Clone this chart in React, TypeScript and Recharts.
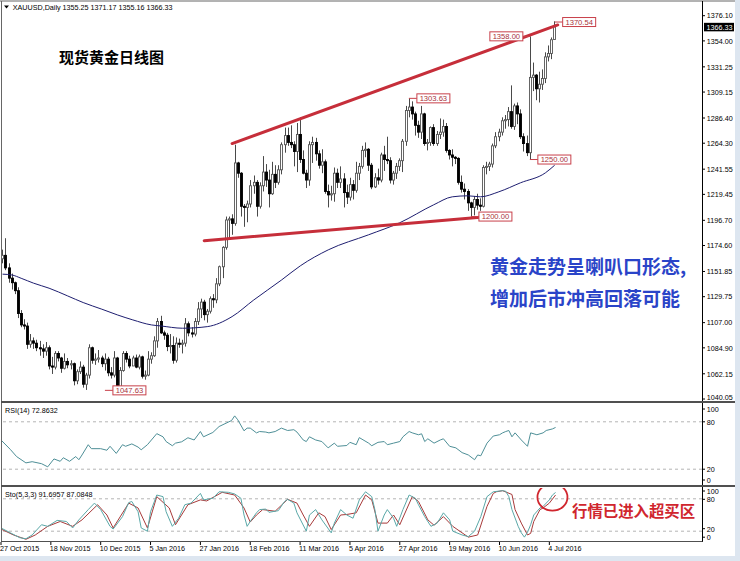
import React from 'react';
import { ComposedChart, Bar, Line, XAxis, YAxis, ReferenceLine, ReferenceDot } from 'recharts';

// XAUUSD daily bars, 27 Oct 2015 .. 6 Jul 2016 (179 bars)
const opens = [
  1163, 1166, 1155, 1146, 1142, 1135, 1115, 1105, 1104, 1088,
  1091, 1089, 1085, 1084, 1082, 1085, 1069, 1068, 1080, 1076,
  1067, 1073, 1070, 1071, 1056, 1064, 1068, 1053, 1061, 1085,
  1074, 1075, 1076, 1071, 1075, 1063, 1061, 1076, 1049, 1065,
  1080, 1075, 1069, 1076, 1068, 1077, 1060, 1061, 1075, 1078,
  1091, 1108, 1098, 1096, 1086, 1087, 1074, 1089, 1088, 1089,
  1106, 1098, 1097, 1108, 1119, 1125, 1114, 1117, 1128, 1127,
  1141, 1156, 1173, 1197, 1198, 1194, 1247, 1238, 1209, 1208,
  1211, 1227, 1230, 1209, 1227, 1239, 1232, 1220, 1237, 1230,
  1241, 1263, 1271, 1265, 1263, 1257, 1272, 1250, 1238, 1232,
  1263, 1265, 1255, 1245, 1248, 1222, 1219, 1220, 1238, 1230,
  1233, 1221, 1217, 1228, 1223, 1238, 1244, 1258, 1259, 1245,
  1226, 1234, 1232, 1254, 1250, 1249, 1232, 1238, 1244, 1249,
  1266, 1293, 1296, 1290, 1280, 1274, 1290, 1264, 1265, 1278,
  1264, 1272, 1274, 1279, 1258, 1254, 1252, 1251, 1230, 1224,
  1222, 1212, 1208, 1215, 1210, 1209, 1243, 1244, 1246, 1262,
  1270, 1274, 1284, 1285, 1292, 1279, 1297, 1290, 1270, 1264,
  1256, 1322, 1324, 1312, 1316, 1321, 1340, 1343, 1355.25,
];
const highs = [
  1171, 1181, 1159, 1150, 1143, 1138, 1118, 1110, 1107, 1097,
  1094, 1092, 1091, 1088, 1090, 1087, 1077, 1082, 1082, 1077,
  1080, 1076, 1074, 1072, 1066, 1073, 1070, 1063, 1088, 1086,
  1080, 1083, 1078, 1080, 1077, 1068, 1082, 1077, 1068, 1082,
  1082, 1078, 1078, 1079, 1079, 1078, 1065, 1082, 1081, 1095,
  1111, 1113, 1100, 1098, 1097, 1095, 1094, 1093, 1092, 1111,
  1108, 1103, 1111, 1125, 1128, 1127, 1119, 1130, 1132, 1146,
  1157, 1174, 1200, 1200, 1202, 1263, 1248, 1239, 1211, 1214,
  1232, 1236, 1232, 1230, 1253, 1246, 1241, 1248, 1245, 1245,
  1265, 1278, 1278, 1280, 1266, 1282, 1287, 1258, 1241, 1266,
  1270, 1269, 1258, 1259, 1250, 1228, 1227, 1243, 1242, 1244,
  1238, 1228, 1234, 1232, 1248, 1247, 1262, 1265, 1260, 1247,
  1238, 1242, 1256, 1262, 1270, 1252, 1240, 1247, 1251, 1268,
  1297, 1303.63, 1301, 1292, 1284, 1297, 1291, 1268, 1279, 1281,
  1275, 1286, 1285, 1282, 1259, 1259, 1253, 1252, 1236, 1229,
  1224, 1213, 1218, 1220, 1216, 1245, 1248, 1248, 1264, 1274,
  1277, 1287, 1289, 1296, 1315, 1299, 1300, 1294, 1273, 1271,
  1358, 1335, 1325, 1327, 1329, 1344, 1350, 1357, 1371.17,
];
const lows = [
  1159, 1153, 1142, 1136, 1132, 1111, 1103, 1101, 1084, 1085,
  1084, 1082, 1078, 1076, 1078, 1066, 1062, 1066, 1073, 1063,
  1066, 1067, 1066, 1052, 1053, 1062, 1050, 1048, 1058, 1071,
  1070, 1072, 1068, 1065, 1060, 1058, 1059, 1047.63, 1049, 1064,
  1072, 1067, 1069, 1067, 1066, 1058, 1057, 1060, 1071, 1077,
  1085, 1097, 1092, 1082, 1080, 1071, 1072, 1085, 1080, 1086,
  1095, 1094, 1095, 1105, 1111, 1109, 1107, 1115, 1120, 1124,
  1139, 1146, 1171, 1181, 1184, 1192, 1234, 1200, 1191, 1195,
  1208, 1220, 1200, 1207, 1222, 1226, 1208, 1219, 1225, 1228,
  1237, 1256, 1262, 1260, 1244, 1239, 1247, 1237, 1225, 1227,
  1247, 1249, 1242, 1238, 1220, 1208, 1214, 1213, 1225, 1225,
  1208, 1211, 1214, 1215, 1221, 1232, 1242, 1252, 1240, 1224,
  1225, 1228, 1230, 1240, 1246, 1229, 1228, 1233, 1240, 1239,
  1262, 1287, 1285, 1271, 1269, 1268, 1262, 1258, 1262, 1262,
  1262, 1268, 1270, 1256, 1250, 1244, 1246, 1228, 1221, 1215,
  1205, 1200, 1201, 1206, 1205, 1208, 1237, 1240, 1243, 1260,
  1266, 1271, 1277, 1279, 1277, 1276, 1281, 1268, 1257, 1253,
  1250, 1310, 1302, 1300, 1311, 1317, 1336, 1338, 1355.16,
];
const closes = [
  1166, 1155, 1146, 1142, 1135, 1115, 1105, 1104, 1088, 1091,
  1089, 1085, 1084, 1082, 1085, 1069, 1068, 1080, 1076, 1067,
  1073, 1070, 1071, 1056, 1064, 1068, 1053, 1061, 1085, 1074,
  1075, 1076, 1071, 1075, 1063, 1061, 1076, 1049, 1065, 1080,
  1075, 1069, 1076, 1068, 1077, 1060, 1061, 1075, 1078, 1091,
  1108, 1098, 1096, 1086, 1087, 1074, 1089, 1088, 1089, 1106,
  1098, 1097, 1108, 1119, 1125, 1114, 1117, 1128, 1127, 1141,
  1156, 1173, 1197, 1198, 1194, 1247, 1238, 1209, 1208, 1211,
  1227, 1230, 1209, 1227, 1239, 1232, 1220, 1237, 1230, 1241,
  1263, 1271, 1265, 1263, 1257, 1272, 1250, 1238, 1232, 1263,
  1265, 1255, 1245, 1248, 1222, 1219, 1220, 1238, 1230, 1233,
  1221, 1217, 1228, 1223, 1238, 1244, 1258, 1259, 1245, 1226,
  1234, 1232, 1254, 1250, 1249, 1232, 1238, 1244, 1249, 1266,
  1293, 1296, 1290, 1280, 1274, 1290, 1264, 1265, 1278, 1264,
  1272, 1274, 1279, 1258, 1254, 1252, 1251, 1230, 1224, 1222,
  1212, 1208, 1215, 1210, 1209, 1243, 1244, 1246, 1262, 1270,
  1274, 1284, 1285, 1292, 1279, 1297, 1290, 1270, 1264, 1256,
  1322, 1324, 1312, 1316, 1321, 1340, 1343, 1355, 1366.33,
];

// moving average as [bar, price]
const maPoints = [
  [0, 1149.5], [3, 1148.8], [6, 1145.9], [10, 1141.6], [15, 1137.2], [21, 1130.4],
  [26, 1124.6], [32, 1118.8], [37, 1113.8], [42, 1109.4], [48, 1105.0], [51, 1104.1],
  [58, 1102.1], [66, 1103.5], [74, 1112.3], [81, 1126.9], [90, 1144.5], [96, 1156.8],
  [105, 1170.8], [118, 1184], [128, 1194.5], [139, 1210.3], [145, 1217.3], [150, 1218.2],
  [154, 1217.3], [160, 1221.7], [167, 1229.6], [175, 1238.3], [178, 1245],
];

// RSI(14) as [bar, value]
const rsiPoints = [
  [0, 57], [3, 45], [5, 36], [8, 28], [10, 29.5], [13, 27], [15, 23], [17, 33], [19, 30],
  [20, 34.5], [22, 30], [24, 36], [25, 32], [26, 38], [28, 51], [29, 46], [32, 46], [34, 44],
  [35, 49], [37, 40], [39, 51], [40, 49], [42, 52], [44, 48], [45, 44.6], [47, 51], [50, 65],
  [52, 61], [53, 55], [55, 49.7], [56, 53], [58, 54.7], [60, 59.8], [62, 57], [64, 67.7],
  [65, 61], [68, 66.5], [70, 74], [74, 81.6], [75, 87.5], [76, 82.5], [78, 68.6], [79, 72],
  [80, 72], [82, 66], [83, 67.7], [85, 67], [86, 66], [88, 67.7], [90, 72], [92, 69],
  [94, 70], [95, 67], [97, 57], [98, 55], [99, 61], [101, 57], [103, 55], [105, 47],
  [107, 53], [108, 49], [111, 50], [112, 54], [114, 51], [115, 60], [118, 53], [119, 49.7],
  [121, 54], [123, 55], [124, 51], [126, 53], [128, 55], [129, 61], [131, 67.7], [132, 66],
  [134, 63.6], [135, 64.8], [136, 55], [137, 58.5], [139, 53], [141, 57], [142, 58.5],
  [144, 49], [146, 47], [148, 41], [150, 38], [152, 32], [153, 38], [154, 37], [156, 53],
  [158, 62], [160, 63.6], [161, 66], [162, 67.7], [163, 69], [164, 61], [165, 66], [167, 57],
  [169, 49], [170, 66], [172, 63.6], [174, 66], [175, 69], [177, 71], [178, 72.86],
];

// Stochastic(5,3,3) main and signal as [bar, value]
const stoKPoints = [
  [0, 26], [3, 17], [6, 8], [8, 6], [10, 13], [13, 32], [15, 29], [18, 40], [21, 38],
  [23, 26], [25, 41], [28, 60], [30, 72], [32, 60], [35, 29], [36, 24], [39, 47], [41, 73],
  [42, 75], [44, 56], [45, 26], [47, 20], [48, 56], [50, 87], [52, 84], [53, 56], [55, 29],
  [57, 44], [59, 69], [61, 72], [64, 90], [65, 78], [68, 81], [70, 93], [73, 92], [75, 89],
  [77, 81], [78, 50], [79, 29], [80, 38], [82, 54], [83, 60], [85, 61], [86, 55], [89, 58],
  [91, 75], [92, 79], [94, 72], [95, 54], [98, 20], [99, 50], [101, 60], [103, 41], [106, 17],
  [107, 35], [109, 60], [111, 50], [113, 44], [115, 78], [117, 93], [119, 84], [120, 60],
  [121, 20], [123, 50], [124, 60], [126, 44], [127, 29], [129, 60], [131, 87], [133, 81],
  [134, 69], [136, 47], [138, 29], [140, 35], [142, 54], [144, 41], [145, 20], [148, 13],
  [150, 10], [152, 20], [154, 47], [156, 84], [158, 93], [161, 95], [162, 94], [163, 84],
  [164, 60], [166, 29], [167, 17], [168, 9], [169, 18], [170, 32], [171, 50], [173, 63],
  [174, 66], [176, 78], [177, 87], [178, 91.7],
];
const stoDPoints = [
  [0, 24], [4, 13], [8, 5], [11, 13], [15, 29], [19, 38], [23, 29], [26, 41], [31, 69],
  [34, 50], [36, 26], [41, 72], [44, 63], [47, 26], [50, 84], [54, 63], [56, 32], [60, 69],
  [64, 78], [66, 76], [71, 92], [75, 87], [78, 63], [80, 37], [82, 50], [84, 60], [88, 57],
  [92, 79], [95, 72], [97, 50], [99, 29], [102, 54], [104, 47], [106, 23], [109, 50],
  [111, 51], [114, 54], [117, 87], [119, 78], [121, 35], [124, 35], [126, 50], [128, 32],
  [132, 84], [134, 75], [137, 41], [139, 31], [142, 47], [145, 29], [150, 9], [153, 13],
  [156, 66], [158, 90], [159, 93], [161, 95], [164, 88], [165, 60], [167, 35], [169, 13],
  [170, 16], [171, 38], [173, 60], [174, 63], [176, 72], [178, 87],
];

const dateTicks = [0, 16, 32, 48, 64, 80, 96, 112, 128, 144, 160, 176];
const dateLabels = [
  '27 Oct 2015', '18 Nov 2015', '10 Dec 2015', '5 Jan 2016', '27 Jan 2016', '18 Feb 2016',
  '11 Mar 2016', '5 Apr 2016', '27 Apr 2016', '19 May 2016', '10 Jun 2016', '4 Jul 2016',
];
const priceTicks = [
  1376.1, 1354.0, 1331.25, 1309.15, 1286.4, 1264.3, 1241.55, 1219.45,
  1196.7, 1174.6, 1151.85, 1129.75, 1107.0, 1084.9, 1062.15, 1040.05,
];
const lastPrice = 1366.33;
const oscTicks = [0, 20, 80, 100];

const priceTags = [
  { bar: 33, price: 1047.63, side: 'right' },
  { bar: 131, price: 1303.63, side: 'right' },
  { bar: 170, price: 1358.0, side: 'left' },
  { bar: 178, price: 1370.54, side: 'right' },
  { bar: 170, price: 1250.0, side: 'right' },
  { bar: 151, price: 1200.0, side: 'right' },
];

const SLOTS = 226; // bars plus the empty shift on the right
const FONT = '"Liberation Sans", Arial, sans-serif';
const CJK = '"Noto Sans CJK SC", sans-serif';
const SMALL = 7.2;
const RED = '#c62e3a';
const TAG = '#c8404a';

const maMap = new Map(maPoints.map(([i, v]) => [i, v]));
const rsiMap = new Map(rsiPoints.map(([i, v]) => [i, v]));
const kMap = new Map(stoKPoints.map(([i, v]) => [i, v]));
const dMap = new Map(stoDPoints.map(([i, v]) => [i, v]));

const rows = Array.from({ length: SLOTS }, (_, i) => ({
  i,
  o: opens[i] ?? null,
  h: highs[i] ?? null,
  l: lows[i] ?? null,
  c: closes[i] ?? null,
  ma: maMap.get(i) ?? null,
  rsi: rsiMap.get(i) ?? null,
  k: kMap.get(i) ?? null,
  d: dMap.get(i) ?? null,
}));

const Candle = (props: any) => {
  const { x, y, width, height, payload } = props;
  if (payload == null || payload.h == null) return null;
  const cx = Math.round(x + width / 2) + 0.5;
  const top = Math.min(y, y + height);
  const h = Math.abs(height);
  const span = payload.h - payload.l || 1;
  const yO = top + ((payload.h - payload.o) / span) * h;
  const yC = top + ((payload.h - payload.c) / span) * h;
  const bull = payload.c >= payload.o;
  const bTop = Math.min(yO, yC);
  const bH = Math.max(Math.abs(yC - yO), 1);
  return (
    <g>
      <line x1={cx} x2={cx} y1={top} y2={top + h} stroke="#4a4a4a" strokeWidth={1} />
      <rect
        x={cx - 1}
        y={bTop}
        width={2}
        height={bH}
        fill={bull ? '#fff' : '#000'}
        stroke={bull ? '#555' : '#000'}
        strokeWidth={0.9}
      />
    </g>
  );
};

const PriceTick = (props: any) => {
  const { x, y, payload } = props;
  const v = payload.value;
  if (v === lastPrice) {
    return (
      <g>
        <rect x={x + 2} y={y - 4} width={30} height={8.5} fill="#000" />
        <text x={x + 4.5} y={y + 0.3} fill="#fff" fontSize={SMALL} fontFamily={FONT} dominantBaseline="central">
          {v.toFixed(2)}
        </text>
      </g>
    );
  }
  // the lowest label sits just above the panel separator
  const ty = v === priceTicks[priceTicks.length - 1] ? y - 1.5 : y;
  return (
    <g>
      <line x1={x} x2={x + 3} y1={y} y2={y} stroke="#000" />
      <text x={x + 4.7} y={ty + 0.3} fill="#000" fontSize={SMALL} fontFamily={FONT} dominantBaseline="central">
        {v.toFixed(2)}
      </text>
    </g>
  );
};

const makeOscTick = (shift: Record<number, number>) => (props: any) => {
  const { x, y, payload } = props;
  const ty = y + (shift[payload.value] ?? 0);
  return (
    <g>
      <line x1={x} x2={x + 3} y1={ty} y2={ty} stroke="#000" />
      <text x={x + 4.7} y={ty + 0.3} fill="#000" fontSize={SMALL} fontFamily={FONT} dominantBaseline="central">
        {payload.value}
      </text>
    </g>
  );
};
const RsiTick = makeOscTick({ 100: 3, 80: 0, 20: 0, 0: -5 });
const StoTick = makeOscTick({ 100: 3, 80: 0.5, 20: -2.5, 0: -4.8 });

const DateTick = (props: any) => {
  const { x, y, payload } = props;
  const label = dateLabels[dateTicks.indexOf(payload.value)];
  return (
    <g>
      <line x1={x} x2={x} y1={y} y2={y + 3} stroke="#000" />
      <text x={x - 1} y={y + 6.5} fill="#000" fontSize={SMALL} fontFamily={FONT} dominantBaseline="central">
        {label}
      </text>
    </g>
  );
};

const PriceTag = (props: any) => {
  const { cx, cy, text, side } = props;
  const w = 33;
  const h = 9;
  const bx = side === 'left' ? cx - 7 - w : cx + 8;
  const lx = side === 'left' ? bx + w : bx;
  return (
    <g>
      <line x1={cx} y1={cy} x2={lx} y2={cy} stroke={TAG} strokeWidth={1} />
      <rect x={bx} y={cy - h / 2} width={w} height={h} fill="#fff" stroke={TAG} strokeWidth={1} />
      <text
        x={bx + w / 2}
        y={cy + 0.4}
        textAnchor="middle"
        dominantBaseline="central"
        fontSize={7.6}
        fontFamily={FONT}
        fill="#a8323a"
      >
        {text}
      </text>
    </g>
  );
};

const xAxisProps = {
  dataKey: 'i',
  type: 'category' as const,
  interval: 0,
  ticks: dateTicks,
};

export default function App() {
  return (
    <div style={{ position: 'absolute', left: 0, top: 0, width: 740, height: 561, background: '#fff', overflow: 'hidden' }}>
      {/* price panel */}
      <div style={{ position: 'absolute', left: 0, top: 0 }}>
        <ComposedChart width={740} height={401} data={rows} margin={{ top: 2, right: 0, bottom: 0, left: 1 }}>
          <XAxis {...xAxisProps} hide />
          <YAxis
            orientation="right"
            width={38}
            type="number"
            domain={[1038.3, 1388.1]}
            allowDataOverflow
            ticks={[...priceTicks, lastPrice]}
            interval={0}
            axisLine={false}
            tickLine={false}
            tickSize={0}
            tickMargin={0}
            tick={PriceTick}
          />
          <Line
            dataKey="ma"
            type="monotone"
            connectNulls
            dot={false}
            stroke="#1e1e70"
            strokeWidth={1}
            isAnimationActive={false}
          />
          <Bar
            dataKey={(d: any) => (d.h == null ? null : [d.l, d.h])}
            shape={Candle}
            isAnimationActive={false}
          />
          <ReferenceLine
            segment={[{ x: 74, y: 1264 }, { x: 179, y: 1368 }]}
            stroke={RED}
            strokeWidth={3}
            strokeLinecap="round"
          />
          <ReferenceLine
            segment={[{ x: 65, y: 1178.8 }, { x: 154, y: 1199.4 }]}
            stroke={RED}
            strokeWidth={3}
            strokeLinecap="round"
          />
          {priceTags.map((t, n) => (
            <ReferenceDot
              key={n}
              x={t.bar}
              y={t.price}
              r={0}
              shape={(p: any) => <PriceTag {...p} text={t.price.toFixed(2)} side={t.side} />}
            />
          ))}
        </ComposedChart>
      </div>

      {/* RSI panel */}
      <div style={{ position: 'absolute', left: 0, top: 406 }}>
        <ComposedChart width={740} height={79} data={rows} margin={{ top: 0, right: 0, bottom: 0, left: 1 }}>
          <XAxis {...xAxisProps} hide />
          <YAxis
            orientation="right"
            width={38}
            type="number"
            domain={[0, 100]}
            ticks={oscTicks}
            interval={0}
            axisLine={false}
            tickLine={false}
            tickSize={0}
            tickMargin={0}
            tick={RsiTick}
          />
          <ReferenceLine y={80} stroke="#b4b4b4" strokeDasharray="3 3" />
          <ReferenceLine y={20} stroke="#b4b4b4" strokeDasharray="3 3" />
          <Line dataKey="rsi" type="linear" connectNulls dot={false} stroke="#4e8f97" strokeWidth={1} isAnimationActive={false} />
        </ComposedChart>
      </div>

      {/* Stochastic panel */}
      <div style={{ position: 'absolute', left: 0, top: 488 }}>
        <ComposedChart width={740} height={72} data={rows} margin={{ top: 0, right: 0, bottom: 0, left: 1 }}>
          <XAxis
            {...xAxisProps}
            height={18}
            axisLine={false}
            tickLine={false}
            tickSize={0}
            tickMargin={0}
            tick={DateTick}
          />
          <YAxis
            orientation="right"
            width={38}
            type="number"
            domain={[0, 100]}
            ticks={oscTicks}
            interval={0}
            axisLine={false}
            tickLine={false}
            tickSize={0}
            tickMargin={0}
            tick={StoTick}
          />
          <ReferenceLine y={80} stroke="#b4b4b4" strokeDasharray="3 3" />
          <ReferenceLine y={20} stroke="#b4b4b4" strokeDasharray="3 3" />
          <Line dataKey="d" type="linear" connectNulls dot={false} stroke="#a83a3a" strokeWidth={1} isAnimationActive={false} />
          <Line dataKey="k" type="linear" connectNulls dot={false} stroke="#5aa8a8" strokeWidth={1} isAnimationActive={false} />
          <ReferenceDot
            x={177}
            y={83}
            r={0}
            shape={(p: any) => (
              <ellipse cx={p.cx} cy={p.cy} rx={15} ry={13.5} fill="none" stroke="#d0262e" strokeWidth={1.8} />
            )}
          />
        </ComposedChart>
      </div>

      {/* window frame and captions */}
      <svg width={740} height={561} style={{ position: 'absolute', left: 0, top: 0, pointerEvents: 'none' }}>
        <rect x={735} y={0} width={5} height={561} fill="#dde6f0" />
        <rect x={0} y={556} width={740} height={5} fill="#dde6f0" />
        <line x1={0} y1={1} x2={735} y2={1} stroke="#666" />
        <line x1={1.5} y1={1} x2={1.5} y2={542} stroke="#666" />
        <line x1={702.5} y1={1} x2={702.5} y2={542} stroke="#000" />
        <rect x={1} y={401} width={734} height={2} fill="#505050" />
        <rect x={1} y={485} width={734} height={2} fill="#505050" />
        <line x1={1} y1={541.5} x2={702.5} y2={541.5} stroke="#505050" />

        <polygon points="4,5.5 9,5.5 6.5,8.5" fill="#000" />
        <text x={12.7} y={7.7} fontSize={SMALL} fontFamily={FONT} fill="#000" dominantBaseline="central">
          XAUUSD,Daily  1355.25 1371.17 1355.16 1366.33
        </text>
        <text x={5} y={410.5} fontSize={SMALL} fontFamily={FONT} fill="#000" dominantBaseline="central">
          RSI(14) 72.8632
        </text>
        <text x={5} y={494.3} fontSize={SMALL} fontFamily={FONT} fill="#000" dominantBaseline="central">
          Sto(5,3,3) 91.6957 87.0848
        </text>

        <text x={59} y={56} fontSize={15} fontWeight={700} fontFamily={CJK} fill="#000" dominantBaseline="central">
          现货黄金日线图
        </text>
        <text x={490} y={265} fontSize={19} fontWeight={700} fontFamily={CJK} fill="#2a44c8" dominantBaseline="central">
          黄金走势呈喇叭口形态,
        </text>
        <text x={490} y={297} fontSize={19} fontWeight={700} fontFamily={CJK} fill="#2a44c8" dominantBaseline="central">
          增加后市冲高回落可能
        </text>
        <text x={572} y={510} fontSize={15.4} fontWeight={700} fontFamily={CJK} fill="#d0262e" dominantBaseline="central">
          行情已进入超买区
        </text>
      </svg>
    </div>
  );
}
